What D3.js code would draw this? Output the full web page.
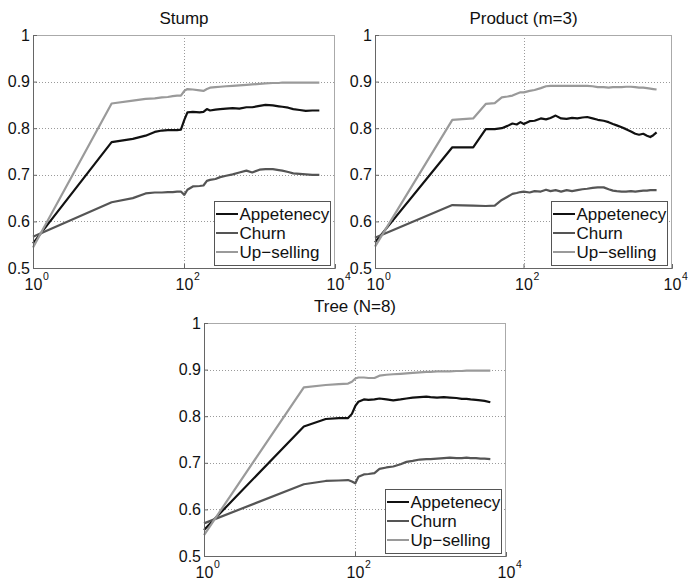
<!DOCTYPE html>
<html>
<head>
<meta charset="utf-8">
<script src="https://cdn.jsdelivr.net/npm/d3@7"></script>
<style>
  html, body { margin: 0; padding: 0; background: #fff; }
  svg { display: block; font-family: "Liberation Sans", Arial, Helvetica, sans-serif; }
</style>
</head>
<body>
<svg id="chart" width="688" height="581"></svg>
<script>
// ---- data -------------------------------------------------------------
const seriesNames = ["Appetenecy", "Churn", "Up\u2212selling"];
const yTicks = [0.5, 0.6, 0.7, 0.8, 0.9, 1];
const xTicks = [1, 100, 10000];
const xTickExponents = ["0", "2", "4"];

// Stump
const stumpTrees = [1, 11, 21, 31, 41, 51, 61, 71, 81, 91, 101, 111, 131, 161, 181, 201, 221, 261, 301, 361, 441, 541, 671, 801, 1001, 1201, 1501, 1801, 2001, 2401, 2801, 3401, 4101, 5001, 6201];
const stumpAppetency = [0.553, 0.770, 0.777, 0.784, 0.792, 0.795, 0.796, 0.796, 0.796, 0.797, 0.818, 0.834, 0.835, 0.834, 0.835, 0.841, 0.838, 0.840, 0.841, 0.842, 0.843, 0.842, 0.845, 0.845, 0.848, 0.850, 0.849, 0.847, 0.846, 0.844, 0.841, 0.839, 0.837, 0.838, 0.838];
const stumpChurn = [0.567, 0.641, 0.650, 0.660, 0.662, 0.662, 0.663, 0.663, 0.664, 0.664, 0.657, 0.668, 0.675, 0.676, 0.677, 0.687, 0.689, 0.691, 0.695, 0.698, 0.701, 0.705, 0.709, 0.705, 0.711, 0.712, 0.712, 0.710, 0.709, 0.706, 0.703, 0.702, 0.701, 0.700, 0.700];
const stumpUpselling = [0.544, 0.853, 0.859, 0.863, 0.864, 0.866, 0.867, 0.869, 0.870, 0.870, 0.880, 0.884, 0.883, 0.881, 0.880, 0.884, 0.887, 0.888, 0.889, 0.890, 0.891, 0.892, 0.893, 0.894, 0.895, 0.896, 0.897, 0.897, 0.898, 0.898, 0.898, 0.898, 0.898, 0.898, 0.898];

// Product (m=3)
const productTrees = [1, 11, 21, 31, 41, 51, 61, 71, 81, 91, 101, 121, 141, 171, 201, 231, 271, 321, 381, 451, 531, 621, 721, 851, 1001, 1201, 1401, 1601, 1801, 2101, 2401, 2801, 3201, 3601, 4101, 4601, 5101, 5601, 6201];
const productAppetency = [0.555, 0.759, 0.759, 0.798, 0.798, 0.800, 0.805, 0.810, 0.808, 0.813, 0.809, 0.815, 0.816, 0.821, 0.819, 0.822, 0.827, 0.821, 0.820, 0.822, 0.821, 0.823, 0.824, 0.821, 0.818, 0.816, 0.813, 0.809, 0.806, 0.802, 0.798, 0.793, 0.788, 0.786, 0.788, 0.784, 0.781, 0.785, 0.791];
const productChurn = [0.565, 0.635, 0.634, 0.633, 0.634, 0.646, 0.653, 0.659, 0.661, 0.663, 0.664, 0.662, 0.665, 0.664, 0.668, 0.665, 0.667, 0.664, 0.667, 0.665, 0.667, 0.669, 0.670, 0.672, 0.673, 0.673, 0.669, 0.666, 0.665, 0.664, 0.664, 0.665, 0.664, 0.665, 0.666, 0.666, 0.667, 0.667, 0.667];
const productUpselling = [0.546, 0.818, 0.821, 0.852, 0.854, 0.866, 0.868, 0.870, 0.874, 0.877, 0.877, 0.880, 0.882, 0.886, 0.890, 0.891, 0.891, 0.891, 0.891, 0.891, 0.891, 0.891, 0.891, 0.890, 0.888, 0.888, 0.887, 0.888, 0.888, 0.888, 0.889, 0.889, 0.888, 0.887, 0.887, 0.886, 0.885, 0.884, 0.883];

// Tree (N=8)
const treeTrees = [1, 21, 41, 61, 81, 91, 101, 111, 131, 151, 181, 211, 261, 321, 401, 481, 581, 721, 881, 1001, 1221, 1501, 1801, 2201, 2601, 3001, 3401, 4001, 4601, 5201, 6201];
const treeAppetency = [0.556, 0.778, 0.794, 0.796, 0.796, 0.805, 0.822, 0.831, 0.836, 0.835, 0.836, 0.838, 0.836, 0.834, 0.836, 0.838, 0.840, 0.841, 0.842, 0.841, 0.840, 0.841, 0.840, 0.839, 0.837, 0.837, 0.836, 0.835, 0.834, 0.833, 0.830];
const treeChurn = [0.570, 0.654, 0.661, 0.662, 0.663, 0.660, 0.656, 0.670, 0.675, 0.676, 0.678, 0.687, 0.690, 0.692, 0.697, 0.702, 0.704, 0.707, 0.708, 0.708, 0.709, 0.710, 0.711, 0.710, 0.710, 0.711, 0.710, 0.710, 0.709, 0.709, 0.708];
const treeUpselling = [0.545, 0.862, 0.867, 0.869, 0.870, 0.874, 0.881, 0.883, 0.883, 0.882, 0.882, 0.887, 0.889, 0.890, 0.891, 0.892, 0.893, 0.894, 0.895, 0.895, 0.896, 0.896, 0.896, 0.897, 0.897, 0.898, 0.898, 0.898, 0.898, 0.898, 0.898];

const panelTitles = ["Stump", "Product (m=3)", "Tree (N=8)"];

// ---- layout & style ---------------------------------------------------
const seriesColors = ["#111111", "#555555", "#9a9a9a"];
const H = 233;
const panels = [
  { title: panelTitles[0], left: 33,  top: 35,  width: 302, trees: stumpTrees,   series: [stumpAppetency, stumpChurn, stumpUpselling] },
  { title: panelTitles[1], left: 375, top: 35,  width: 297, trees: productTrees, series: [productAppetency, productChurn, productUpselling] },
  { title: panelTitles[2], left: 204, top: 323, width: 302, trees: treeTrees,    series: [treeAppetency, treeChurn, treeUpselling] }
];
const FONT = "Liberation Sans, Arial, sans-serif";

const svg = d3.select("#chart");

panels.forEach(p => {
  const W = p.width;
  const g = svg.append("g").attr("transform", `translate(${p.left},${p.top})`);
  const x = d3.scaleLog().domain([1, 10000]).range([0, W]);
  const y = d3.scaleLinear().domain([0.5, 1]).range([H, 0]);

  // dotted grid
  const grid = g.append("g").attr("stroke", "#9a9a9a").attr("stroke-width", 1)
    .attr("stroke-dasharray", "1,2");
  grid.selectAll("line.gy").data(yTicks.filter(v => v > 0.5 && v < 1)).join("line")
    .attr("class", "gy")
    .attr("x1", 0).attr("x2", W)
    .attr("y1", d => Math.round(y(d)) + 0.5).attr("y2", d => Math.round(y(d)) + 0.5);
  grid.selectAll("line.gx").data(xTicks.filter(v => v > 1 && v < 10000)).join("line")
    .attr("class", "gx")
    .attr("y1", 0).attr("y2", H)
    .attr("x1", d => Math.round(x(d)) + 0.5).attr("x2", d => Math.round(x(d)) + 0.5);

  // top and right frame lines
  g.append("line").attr("x1", 0).attr("x2", W).attr("y1", 0.5).attr("y2", 0.5)
    .attr("stroke", "#aaaaaa");
  g.append("line").attr("x1", W - 0.5).attr("x2", W - 0.5).attr("y1", 0).attr("y2", H)
    .attr("stroke", "#aaaaaa");

  // curves
  const line = d3.line()
    .x(d => x(d[0]))
    .y(d => y(d[1]));
  p.series.forEach((vals, i) => {
    g.append("path")
      .datum(p.trees.map((t, k) => [t, vals[k]]))
      .attr("fill", "none")
      .attr("stroke", seriesColors[i])
      .attr("stroke-width", 2.2)
      .attr("stroke-linejoin", "round")
      .attr("d", line);
  });

  // y axis
  const yAxis = g.append("g")
    .call(d3.axisLeft(y).tickValues(yTicks).tickSize(-4).tickPadding(3)
      .tickFormat(d => d === 1 ? "1" : d.toFixed(1)));
  yAxis.select(".domain").attr("stroke", "#666666");
  yAxis.selectAll(".tick line").attr("stroke", "#666666");
  yAxis.selectAll("text").attr("font-size", 16).attr("fill", "#111")
    .attr("font-family", FONT);

  // x axis with powers of ten
  const xAxis = g.append("g").attr("transform", `translate(0,${H})`)
    .call(d3.axisBottom(x).tickValues(xTicks).tickSize(-4).tickFormat(() => ""));
  xAxis.select(".domain").attr("stroke", "#666666");
  xAxis.selectAll(".tick line").attr("stroke", "#666666");
  xAxis.selectAll(".tick text").remove();
  xAxis.selectAll(".tick").each(function(d, i) {
    const t = d3.select(this);
    t.append("text").text("10")
      .attr("x", 0).attr("y", 22)
      .attr("text-anchor", "middle")
      .attr("font-size", 16).attr("fill", "#111")
      .attr("font-family", FONT);
    t.append("text").text(xTickExponents[i])
      .attr("x", 9.5).attr("y", 12)
      .attr("text-anchor", "start")
      .attr("font-size", 10.5).attr("fill", "#111")
      .attr("font-family", FONT);
  });

  // title
  g.append("text").text(p.title)
    .attr("x", W / 2).attr("y", -11)
    .attr("text-anchor", "middle")
    .attr("font-size", 17).attr("fill", "#111");

  // legend
  const lw = 116, lh = 64;
  const lg = g.append("g").attr("transform", `translate(${W - 5 - lw},${H - 3 - lh})`);
  lg.append("rect").attr("x", 0.5).attr("y", 0.5).attr("width", lw).attr("height", lh)
    .attr("fill", "#fff").attr("stroke", "#555555").attr("stroke-width", 1);
  seriesNames.forEach((name, i) => {
    const cy = 13 + i * 19;
    lg.append("line").attr("x1", 2).attr("x2", 24).attr("y1", cy).attr("y2", cy)
      .attr("stroke", seriesColors[i]).attr("stroke-width", 2);
    lg.append("text").text(name)
      .attr("x", 25.5).attr("y", cy + 6)
      .attr("font-size", 17).attr("fill", "#111");
  });
});
</script>
</body>
</html>
